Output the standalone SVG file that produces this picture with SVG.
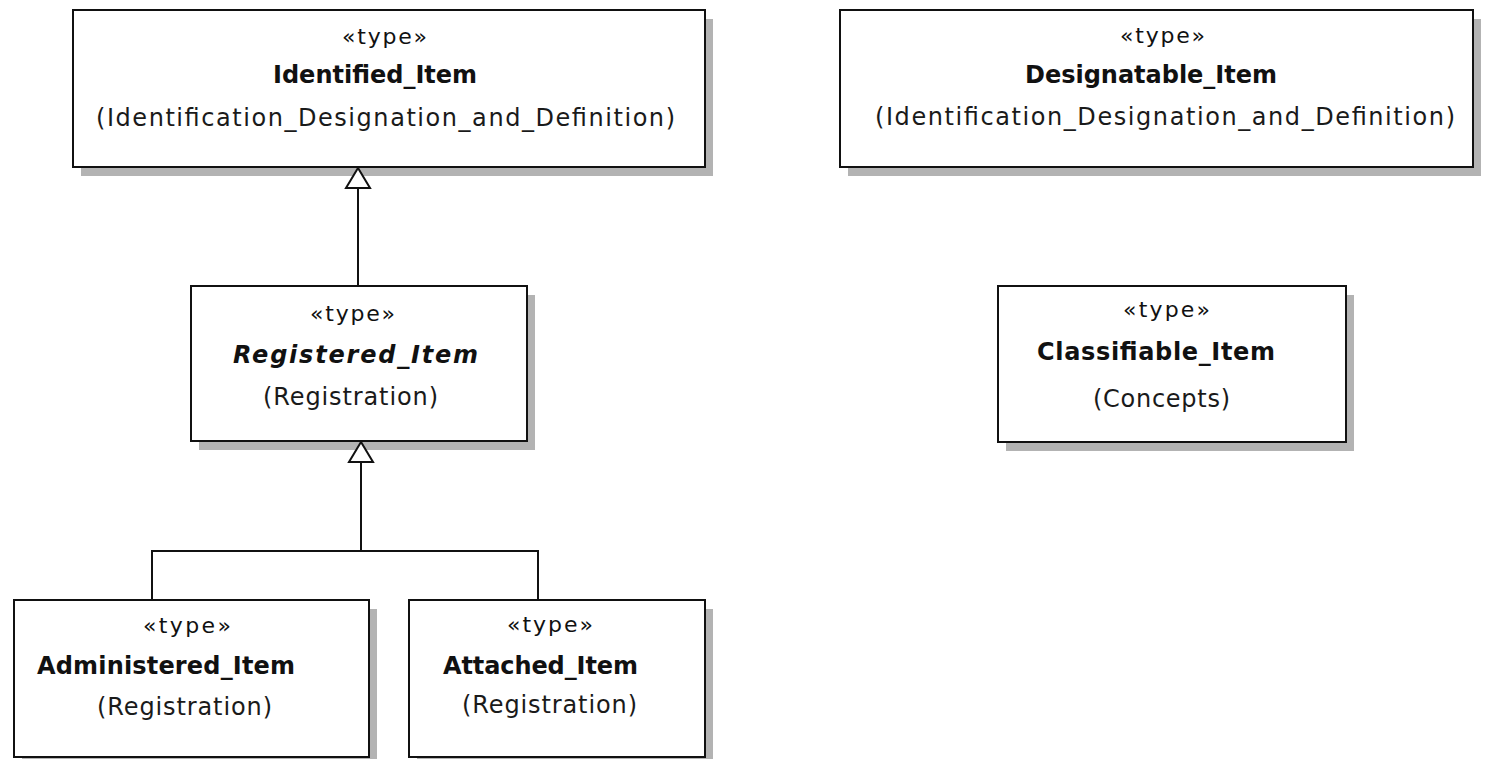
<svg xmlns="http://www.w3.org/2000/svg" width="1496" height="759" viewBox="0 0 1496 759">
  <style>
    .shadow { fill: #b3b3b3; }
    .box { fill: #ffffff; stroke: #111111; stroke-width: 2; }
    .st { font-family: "DejaVu Sans", "Liberation Sans", sans-serif; font-size: 22px; fill: #111111; }
    .nm { font-family: "DejaVu Sans", "Liberation Sans", sans-serif; font-size: 24px; font-weight: bold; fill: #111111; }
    .it { font-style: italic; }
    .pk { font-family: "DejaVu Sans", "Liberation Sans", sans-serif; font-size: 24px; fill: #1a1a1a; }
    .edge { fill: none; stroke: #111111; stroke-width: 2; }
    .gen { fill: #ffffff; stroke: #111111; stroke-width: 2; stroke-linejoin: miter; }
  </style>

  <!-- Identified_Item -->
  <g id="identified-item">
    <rect class="shadow" x="81" y="19" width="632" height="157"/>
    <rect class="box" x="73" y="10" width="632" height="157"/>
    <text class="st" x="342" y="44" textLength="85">«type»</text>
    <text class="nm" x="273" y="83">Identified_Item</text>
    <text class="pk" x="96" y="126" textLength="579">(Identification_Designation_and_Definition)</text>
  </g>

  <!-- Designatable_Item -->
  <g id="designatable-item">
    <rect class="shadow" x="848" y="19" width="633" height="157"/>
    <rect class="box" x="840" y="10" width="633" height="157"/>
    <text class="st" x="1120" y="43" textLength="85">«type»</text>
    <text class="nm" x="1025" y="83" textLength="252">Designatable_Item</text>
    <text class="pk" x="875" y="125" textLength="580">(Identification_Designation_and_Definition)</text>
  </g>

  <!-- Registered_Item (abstract) -->
  <g id="registered-item">
    <rect class="shadow" x="199" y="295" width="336" height="155"/>
    <rect class="box" x="191" y="286" width="336" height="155"/>
    <text class="st" x="310" y="321" textLength="85">«type»</text>
    <text class="nm it" x="233" y="363" textLength="245">Registered_Item</text>
    <text class="pk" x="263" y="405" textLength="175">(Registration)</text>
  </g>

  <!-- Classifiable_Item -->
  <g id="classifiable-item">
    <rect class="shadow" x="1006" y="295" width="348" height="156"/>
    <rect class="box" x="998" y="286" width="348" height="156"/>
    <text class="st" x="1123" y="317" textLength="87">«type»</text>
    <text class="nm" x="1037" y="360" textLength="238">Classifiable_Item</text>
    <text class="pk" x="1093" y="407" textLength="137">(Concepts)</text>
  </g>

  <!-- Administered_Item -->
  <g id="administered-item">
    <rect class="shadow" x="22" y="609" width="355" height="157"/>
    <rect class="box" x="14" y="600" width="355" height="157"/>
    <text class="st" x="143" y="633" textLength="88">«type»</text>
    <text class="nm" x="37" y="674" textLength="258">Administered_Item</text>
    <text class="pk" x="97" y="715" textLength="175">(Registration)</text>
  </g>

  <!-- Attached_Item -->
  <g id="attached-item">
    <rect class="shadow" x="417" y="609" width="296" height="157"/>
    <rect class="box" x="409" y="600" width="296" height="157"/>
    <text class="st" x="507" y="632" textLength="86">«type»</text>
    <text class="nm" x="443" y="674" textLength="195">Attached_Item</text>
    <text class="pk" x="462" y="713" textLength="175">(Registration)</text>
  </g>

  <!-- generalization connectors -->
  <g id="connectors">
    <!-- Registered_Item generalizes to Identified_Item -->
    <path class="edge" d="M358 188 V286"/>
    <polygon class="gen" points="358,168 346,188 370,188"/>
    <!-- Administered_Item and Attached_Item generalize to Registered_Item -->
    <path class="edge" d="M361 462 V551 M152 600 V551 H538 V600"/>
    <polygon class="gen" points="361,442 349,462 373,462"/>
  </g>
</svg>
